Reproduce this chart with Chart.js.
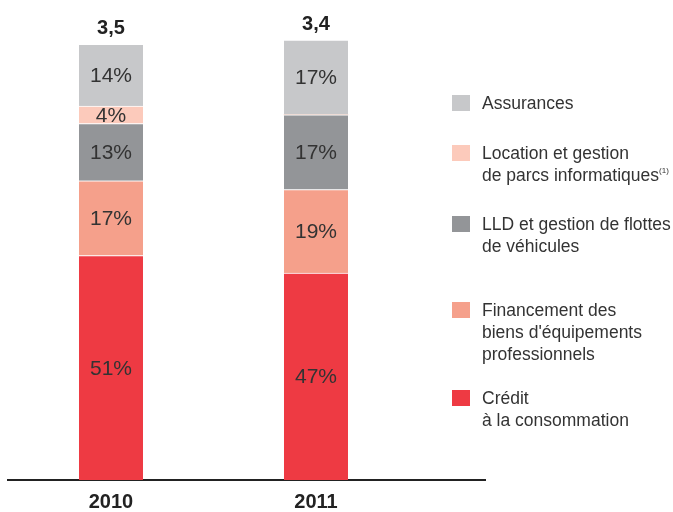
<!DOCTYPE html>
<html>
<head>
<meta charset="utf-8">
<script src="https://cdn.jsdelivr.net/npm/chart.js@4"></script>
<style>
  html, body { margin: 0; padding: 0; background: #fff; }
  #cadre { position: relative; width: 673px; height: 512px; }
  #legende { position: absolute; left: 0; top: 0; font-family: 'Liberation Sans', Arial, sans-serif; font-size: 17.5px; color: #333; }
  .item { position: absolute; left: 482px; line-height: 22px; white-space: nowrap; }
  .carre { position: absolute; left: -30px; top: 3px; width: 18px; height: 16px; }
  sup { font-size: 8px; vertical-align: 8px; line-height: 0; }
</style>
</head>
<body>
<div id="cadre">
  <canvas id="graphique" width="673" height="512"></canvas>
  <div id="legende"></div>
</div>
<script>
const annees = ['2010', '2011'];
const totaux = ['3,5', '3,4'];
const series = [
  'Crédit<br>à la consommation',
  'Financement des<br>biens d\'équipements<br>professionnels',
  'LLD et gestion de flottes<br>de véhicules',
  'Location et gestion<br>de parcs informatiques<sup>(1)</sup>',
  'Assurances',
];
const credit = [51, 47];
const financement = [17, 19];
const lld = [13, 17];
const locationInfo = [4, 0];
const assurances = [14, 17];

const couleurs = ['#ee3a43', '#f5a08b', '#939598', '#fccabb', '#c7c8ca'];
const valeurs = [credit, financement, lld, locationInfo, assurances];

// étiquettes de pourcentage dans les segments + totaux au-dessus
const etiquettes = {
  id: 'etiquettes',
  afterDatasetsDraw(chart) {
    const ctx = chart.ctx;
    ctx.save();
    ctx.textAlign = 'center';
    ctx.textBaseline = 'middle';
    chart.data.datasets.forEach((ds, i) => {
      chart.getDatasetMeta(i).data.forEach((barre, j) => {
        const v = ds.data[j].y;
        if (!v) return;
        ctx.font = '21px "Liberation Sans", Arial, sans-serif';
        ctx.fillStyle = '#333';
        ctx.fillText(v + '%', barre.x, (barre.y + barre.base) / 2 + 1);
      });
    });
    const dernier = chart.getDatasetMeta(chart.data.datasets.length - 1).data;
    dernier.forEach((barre, j) => {
      ctx.font = 'bold 20px "Liberation Sans", Arial, sans-serif';
      ctx.fillStyle = '#222';
      ctx.fillText(totaux[j], barre.x, barre.y - 16);
    });
    ctx.restore();
  }
};

new Chart(document.getElementById('graphique'), {
  type: 'bar',
  data: {
    datasets: valeurs.map((serie, i) => ({
      label: series[i],
      data: serie.map((v, j) => ({ x: Number(annees[j]), y: v })),
      backgroundColor: couleurs[i],
      borderColor: '#fff',
      borderWidth: { top: 1, bottom: 0, left: 0, right: 0 },
      borderSkipped: false,
      barThickness: 64,
    })),
  },
  options: {
    responsive: false,
    animation: false,
    layout: { padding: { left: 8, right: 188, top: 40, bottom: 0 } },
    plugins: { legend: { display: false }, tooltip: { enabled: false } },
    scales: {
      x: {
        type: 'linear',
        stacked: true,
        offset: false,
        min: 2009.4976,
        max: 2011.8244,
        grid: { display: false, offset: false, drawTicks: false },
        border: { display: true, color: '#222', width: 2 },
        afterBuildTicks: axe => { axe.ticks = annees.map(a => ({ value: Number(a) })); },
        afterFit: axe => { axe.height = 32; },
        ticks: {
          padding: 10,
          color: '#222',
          font: { family: 'Liberation Sans', size: 20, weight: 'bold' },
          callback: v => String(v),
        },
      },
      y: {
        stacked: true,
        display: false,
        min: 0,
        max: 100,
      },
    },
  },
  plugins: [etiquettes],
});

// légende à droite
const positions = [387, 299, 213, 142, 92];
const legende = document.getElementById('legende');
series.forEach((nom, i) => {
  const item = document.createElement('div');
  item.className = 'item';
  item.style.top = positions[i] + 'px';
  item.innerHTML = '<span class="carre" style="background:' + couleurs[i] + '"></span>' + nom;
  legende.appendChild(item);
});
</script>
</body>
</html>
